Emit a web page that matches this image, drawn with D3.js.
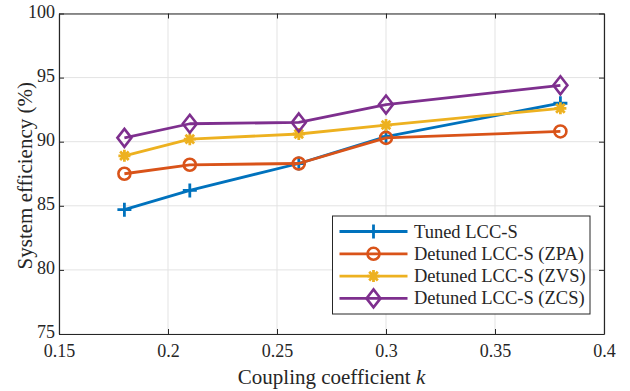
<!DOCTYPE html>
<html>
<head>
<meta charset="utf-8">
<script src="https://cdn.jsdelivr.net/npm/d3@7"></script>
<style>
  body { margin: 0; background: #fff; }
  svg { display: block; font-family: "Times New Roman", "Liberation Serif", Tinos, "DejaVu Serif", serif; }
</style>
</head>
<body>
<div id="vis"></div>
<script>
const kValues = [0.18, 0.21, 0.26, 0.3, 0.38]
const tuned = [84.7, 86.2, 88.3, 90.4, 93.0]
const detunedZPA = [87.5, 88.2, 88.3, 90.3, 90.8]
const detunedZVS = [88.9, 90.2, 90.6, 91.3, 92.6]
const detunedZCS = [90.3, 91.4, 91.5, 92.9, 94.4]
const seriesNames = ['Tuned LCC-S', 'Detuned LCC-S (ZPA)', 'Detuned LCC-S (ZVS)', 'Detuned LCC-S (ZCS)']
const xTicks = [0.15, 0.2, 0.25, 0.3, 0.35, 0.4]
const yTicks = [75, 80, 85, 90, 95, 100]

const width = 630, height = 391
const margin = { top: 13.5, right: 26, bottom: 57, left: 59 }
const serif = '"Times New Roman", "Liberation Serif", Tinos, "DejaVu Serif", serif'

const series = [
  { name: seriesNames[0], values: tuned, color: '#0072BD', marker: 'plus' },
  { name: seriesNames[1], values: detunedZPA, color: '#D95319', marker: 'circle' },
  { name: seriesNames[2], values: detunedZVS, color: '#EDB120', marker: 'star' },
  { name: seriesNames[3], values: detunedZCS, color: '#7E2F8E', marker: 'diamond' }
]

const svg = d3.select('#vis').append('svg')
  .attr('width', width).attr('height', height)

const x = d3.scaleLinear().domain([0.15, 0.4]).range([margin.left, width - margin.right])
const y = d3.scaleLinear().domain([75, 100]).range([height - margin.bottom, margin.top])

// grid
const grid = svg.append('g')
grid.selectAll('.vg').data(xTicks).enter().append('line')
  .attr('x1', (d) => x(d)).attr('x2', (d) => x(d))
  .attr('y1', y(75)).attr('y2', y(100))
  .attr('stroke', '#e3e3e3').attr('stroke-width', 1)
grid.selectAll('.hg').data(yTicks).enter().append('line')
  .attr('x1', x(0.15)).attr('x2', x(0.4))
  .attr('y1', (d) => y(d)).attr('y2', (d) => y(d))
  .attr('stroke', '#e3e3e3').attr('stroke-width', 1)

// axes (ticks pointing inward, box on all sides)
const axisColor = '#262626'
function styleAxis(g) {
  g.select('.domain').attr('stroke', axisColor).attr('stroke-width', 1.2)
  g.selectAll('.tick line').attr('stroke', axisColor).attr('stroke-width', 1)
  g.selectAll('.tick text').attr('fill', axisColor)
    .attr('font-family', serif).attr('font-size', 18)
}

svg.append('g')
  .attr('transform', 'translate(0,' + y(75) + ')')
  .call(d3.axisBottom(x).tickValues(xTicks).tickSize(-5).tickSizeOuter(0)
    .tickPadding(10).tickFormat((d) => String(+d.toFixed(2))))
  .call(styleAxis)

svg.append('g')
  .attr('transform', 'translate(0,' + y(100) + ')')
  .call(d3.axisTop(x).tickValues(xTicks).tickSize(-5).tickSizeOuter(0).tickFormat(''))
  .call(styleAxis)

svg.append('g')
  .attr('transform', 'translate(' + x(0.15) + ',0)')
  .call(d3.axisLeft(y).tickValues(yTicks).tickSize(-5).tickSizeOuter(0).tickPadding(4))
  .call(styleAxis)
  .selectAll('.tick text').attr('dy', '0.22em')

svg.append('g')
  .attr('transform', 'translate(' + x(0.4) + ',0)')
  .call(d3.axisRight(y).tickValues(yTicks).tickSize(-5).tickSizeOuter(0).tickFormat(''))
  .call(styleAxis)

// axis labels
const xl = svg.append('text')
  .attr('x', (x(0.15) + x(0.4)) / 2).attr('y', 384)
  .attr('text-anchor', 'middle').attr('fill', axisColor)
  .attr('font-family', serif).attr('font-size', 21)
xl.append('tspan').text('Coupling coefficient ')
xl.append('tspan').attr('font-style', 'italic').text('k')

svg.append('text')
  .attr('transform', 'translate(32,' + ((y(75) + y(100)) / 2 + 2) + ') rotate(-90)')
  .attr('text-anchor', 'middle').attr('fill', axisColor)
  .attr('font-family', serif).attr('font-size', 21)
  .text('System efficiency (%)')

// markers
function drawMarker(g, type, color) {
  if (type === 'plus') {
    g.append('path').attr('d', 'M-7,0H7M0,-7V7')
      .attr('stroke', color).attr('stroke-width', 2.8).attr('fill', 'none')
  } else if (type === 'circle') {
    g.append('circle').attr('r', 6)
      .attr('stroke', color).attr('stroke-width', 2.6).attr('fill', 'none')
  } else if (type === 'star') {
    g.append('path').attr('d', 'M-6,0H6M0,-6V6M-4.3,-4.3L4.3,4.3M-4.3,4.3L4.3,-4.3')
      .attr('stroke', color).attr('stroke-width', 2.8).attr('fill', 'none')
  } else if (type === 'diamond') {
    g.append('path').attr('d', 'M0,-9L7,0L0,9L-7,0Z')
      .attr('stroke', color).attr('stroke-width', 2.6).attr('fill', 'none')
  }
}

const line = d3.line().x((d) => x(d[0])).y((d) => y(d[1]))

series.forEach((s) => {
  const pts = kValues.map((k, i) => [k, s.values[i]])
  svg.append('path').datum(pts)
    .attr('d', line)
    .attr('fill', 'none').attr('stroke', s.color).attr('stroke-width', 2.8)
    .attr('stroke-linejoin', 'round')
  pts.forEach((p) => {
    const g = svg.append('g').attr('transform', 'translate(' + x(p[0]) + ',' + y(p[1]) + ')')
    drawMarker(g, s.marker, s.color)
  })
})

// legend
const legend = svg.append('g').attr('transform', 'translate(332.5,216)')
legend.append('rect').attr('width', 257.5).attr('height', 98)
  .attr('fill', '#fff').attr('stroke', axisColor).attr('stroke-width', 1)

series.forEach((s, i) => {
  const ly = 15.5 + i * 22.3
  legend.append('line').attr('x1', 7).attr('x2', 75).attr('y1', ly).attr('y2', ly)
    .attr('stroke', s.color).attr('stroke-width', 2.8)
  const g = legend.append('g').attr('transform', 'translate(41,' + ly + ')')
  drawMarker(g, s.marker, s.color)
  legend.append('text').attr('x', 81.5).attr('y', ly + 6)
    .attr('fill', axisColor).attr('font-family', serif).attr('font-size', 18.5)
    .text(s.name)
})
</script>
</body>
</html>
